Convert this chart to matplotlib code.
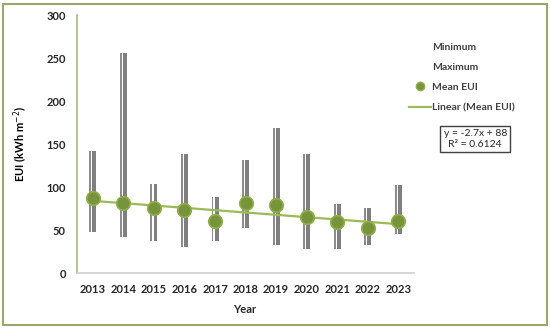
import numpy as np
import matplotlib.pyplot as plt
from matplotlib.lines import Line2D
from matplotlib.patches import Rectangle

plt.rcParams['font.family'] = ['Lato', 'DejaVu Sans']

years = [2013, 2014, 2015, 2016, 2017, 2018, 2019, 2020, 2021, 2022, 2023]
eui_min = [48, 42, 37, 30, 37, 52, 33, 28, 28, 33, 45]
eui_max = [142, 256, 104, 139, 88, 132, 169, 138, 80, 76, 102]
eui_mean = [87, 82, 76, 73, 60, 81, 79, 65, 59, 52, 61]

x = np.arange(len(years))

fig = plt.figure(figsize=(5.5, 3.29), dpi=100)
ax = fig.add_axes([0.14, 0.17, 0.613, 0.784])

heights = np.array(eui_max) - np.array(eui_min)
# thin light stripe + wider dark stripe, like the Excel high-low bars
ax.bar(x - 0.083, heights, bottom=eui_min, width=0.065, color='#8c8c8c', zorder=2)
ax.bar(x + 0.05, heights, bottom=eui_min, width=0.13, color='#7f7f7f', zorder=2)

ax.scatter(x, eui_mean, s=95, color='#77933c', edgecolor='#8fb048', linewidth=1.2, zorder=4)

slope, intercept = np.polyfit(x + 1, eui_mean, 1)
ax.plot(x, slope * (x + 1) + intercept, color='#9bbb59', lw=1.6, zorder=3)

ax.set_xlim(-0.52, 10.52)
ax.set_ylim(0, 300)
ax.set_yticks(range(0, 301, 50))
ax.set_xticks(x)
ax.set_xticklabels(years)
ax.tick_params(length=0, labelsize=8, pad=8)
for lab in ax.get_xticklabels() + ax.get_yticklabels():
    lab.set_fontweight('bold')
    lab.set_color('#262626')

for s in ['top', 'right']:
    ax.spines[s].set_visible(False)
ax.spines['left'].set_color('#a9b77a')
ax.spines['left'].set_linewidth(1.2)
ax.spines['bottom'].set_color('#d0d0d0')
ax.spines['bottom'].set_linewidth(1.2)

ax.set_ylabel('EUI (kWh m$^{-2}$)', fontsize=8, fontweight='bold', labelpad=12)
fig.text(0.445, 0.05, 'Year', fontsize=8, fontweight='bold', ha='center', color='#262626')

handles = [
    Line2D([], [], linestyle='none'),
    Line2D([], [], linestyle='none'),
    Line2D([], [], linestyle='none', marker='o', markersize=6,
           markerfacecolor='#77933c', markeredgecolor='#8fb048'),
    Line2D([], [], color='#9bbb59', lw=1.6),
]
labels = ['Minimum', 'Maximum', 'Mean EUI', 'Linear (Mean EUI)']
leg = fig.legend(handles, labels, loc='upper left', bbox_to_anchor=(0.727, 0.9),
                 frameon=False, fontsize=7.5, handlelength=2.1, handletextpad=0.1,
                 labelspacing=1.05)
for t in leg.get_texts():
    t.set_color('#404040')
    t.set_fontweight('bold')

fig.text(0.864, 0.577, 'y = -2.7x + 88\nR² = 0.6124', fontsize=7.5, ha='center', va='center',
         color='#262626', linespacing=1.3,
         bbox=dict(boxstyle='square,pad=0.3', facecolor='white', edgecolor='#404040', lw=1))

fig.add_artist(Rectangle((0.006, 0.012), 0.988, 0.976, transform=fig.transFigure,
                         fill=False, edgecolor='#9aa66b', lw=1.5))

fig.savefig('out.png', dpi=100)
